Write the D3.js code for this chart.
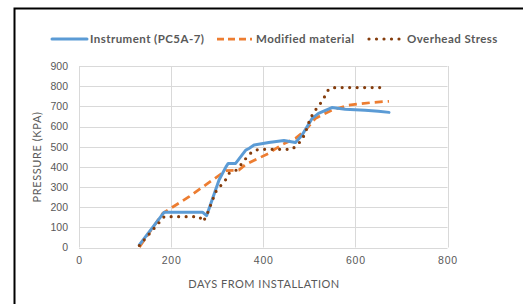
<!DOCTYPE html>
<html>
<head>
<meta charset="utf-8">
<script src="https://cdn.jsdelivr.net/npm/d3@7"></script>
<style>
  body { margin: 0; background: #fff; }
  svg { display: block; font-family: Lato, 'Open Sans', sans-serif; }
</style>
</head>
<body>
<div id="chart"></div>
<script>
// Values
const instrumentDays = [131, 185, 268, 277, 304, 319, 324, 340, 362, 369, 380, 412, 445, 470, 484, 506, 520, 549, 578, 621, 650, 673];
const instrumentKpa = [13, 175, 175, 158, 335, 400, 417, 417, 483, 491, 508, 521, 531, 521, 557, 640, 665, 694, 686, 681, 676, 670];

const modifiedDays = [131, 182, 239, 290, 319, 347, 362, 412, 441, 470, 492, 513, 549, 585, 636, 673];
const modifiedKpa = [2, 170, 252, 335, 381, 384, 412, 467, 511, 541, 582, 640, 681, 706, 719, 725];

const overheadDays = [131, 185, 261, 270, 279, 297, 319, 326, 340, 354, 365, 376, 390, 463, 473, 484, 492, 502, 513, 524, 533, 542, 556, 665];
const overheadKpa = [10, 153, 153, 128, 170, 277, 338, 368, 381, 417, 450, 475, 487, 487, 508, 533, 574, 640, 681, 714, 747, 785, 793, 793];

const xTicks = [0, 200, 400, 600, 800];
const yTicks = [0, 100, 200, 300, 400, 500, 600, 700, 800, 900];

const seriesNames = ['Instrument (PC5A-7)', 'Modified material', 'Overhead Stress'];

const w = 523;
const h = 304;
const margin = { left: 79, right: 75, top: 66, bottom: 56 };

const svg = d3.select('#chart')
  .append('svg')
  .attr('width', w)
  .attr('height', h);

// frame of the chart area (only left and top edges are visible)
svg.append('rect')
  .attr('x', 14.5)
  .attr('y', 8.5)
  .attr('width', w)
  .attr('height', h)
  .attr('fill', 'none')
  .attr('stroke', '#000')
  .attr('stroke-width', 2);

const xscale = d3.scaleLinear().domain([0, 800]).range([margin.left, w - margin.right - 0.5]);
const yscale = d3.scaleLinear().domain([0, 900]).range([h - margin.bottom - 0.5, margin.top]);

// grid lines
svg.append('g')
  .selectAll('line')
  .data(yTicks)
  .enter()
  .append('line')
  .attr('x1', xscale(0))
  .attr('x2', xscale(800))
  .attr('y1', (d) => Math.round(yscale(d)) + 0.5)
  .attr('y2', (d) => Math.round(yscale(d)) + 0.5)
  .attr('stroke', '#d9d9d9');

svg.append('g')
  .selectAll('line')
  .data(xTicks)
  .enter()
  .append('line')
  .attr('x1', (d) => Math.round(xscale(d)) + 0.5)
  .attr('x2', (d) => Math.round(xscale(d)) + 0.5)
  .attr('y1', yscale(0))
  .attr('y2', yscale(900))
  .attr('stroke', '#d9d9d9');

// axes: labels only
const xAxis = d3.axisBottom(xscale).tickValues(xTicks).tickSize(0).tickPadding(9);
svg.append('g')
  .attr('transform', 'translate(0,' + yscale(0) + ')')
  .call(xAxis)
  .call((g) => g.select('.domain').remove())
  .selectAll('text')
  .attr('fill', '#595959')
  .style('font-size', '10.5px')
  .style('letter-spacing', '0.8px');

const yAxis = d3.axisLeft(yscale).tickValues(yTicks).tickSize(0).tickPadding(11);
svg.append('g')
  .attr('transform', 'translate(' + xscale(0) + ',0)')
  .call(yAxis)
  .call((g) => g.select('.domain').remove())
  .selectAll('text')
  .attr('fill', '#595959')
  .style('font-size', '10.5px');

// axis titles
svg.append('text')
  .attr('x', 264)
  .attr('y', 288)
  .attr('text-anchor', 'middle')
  .attr('fill', '#595959')
  .style('font-size', '11px')
  .style('letter-spacing', '0.5px')
  .text('DAYS FROM INSTALLATION');

svg.append('text')
  .attr('transform', 'translate(41,157) rotate(-90)')
  .attr('text-anchor', 'middle')
  .attr('fill', '#595959')
  .style('font-size', '11px')
  .style('letter-spacing', '0.6px')
  .text('PRESSURE (KPA)');

// series lines
const line = d3.line()
  .x((d) => xscale(d[0]))
  .y((d) => yscale(d[1]));

const instrument = d3.zip(instrumentDays, instrumentKpa);
const modified = d3.zip(modifiedDays, modifiedKpa);
const overhead = d3.zip(overheadDays, overheadKpa);

const styles = [
  { color: '#5b9bd5', width: 3, dash: null, cap: 'round' },
  { color: '#ed7d31', width: 2.75, dash: '8,5', cap: 'butt' },
  { color: '#843c0c', width: 3.2, dash: '0,7.5', cap: 'round' }
];

svg.append('path')
  .datum(modified)
  .attr('d', line)
  .attr('fill', 'none')
  .attr('stroke', styles[1].color)
  .attr('stroke-width', styles[1].width)
  .attr('stroke-dasharray', styles[1].dash);

svg.append('path')
  .datum(instrument)
  .attr('d', line)
  .attr('fill', 'none')
  .attr('stroke', styles[0].color)
  .attr('stroke-width', styles[0].width)
  .attr('stroke-linejoin', 'round')
  .attr('stroke-linecap', 'round');

svg.append('path')
  .datum(overhead)
  .attr('d', line)
  .attr('fill', 'none')
  .attr('stroke', styles[2].color)
  .attr('stroke-width', styles[2].width)
  .attr('stroke-dasharray', styles[2].dash)
  .attr('stroke-linecap', 'round');

// legend
const legendX = [52, 217, 369];
const legend = svg.append('g')
  .selectAll('g')
  .data(seriesNames)
  .enter()
  .append('g')
  .attr('transform', (d, i) => 'translate(' + legendX[i] + ',39)');

legend.append('line')
  .attr('x1', 0)
  .attr('x2', 35)
  .attr('y1', 0)
  .attr('y2', 0)
  .attr('stroke', (d, i) => styles[i].color)
  .attr('stroke-width', (d, i) => styles[i].width)
  .attr('stroke-dasharray', (d, i) => (i === 1 ? '7,4' : i === 2 ? '0,7.5' : null))
  .attr('stroke-linecap', (d, i) => styles[i].cap);

legend.append('text')
  .attr('x', (d, i) => (i === 2 ? 38 : i === 1 ? 39 : 38))
  .attr('y', 4)
  .attr('fill', '#595959')
  .style('font-size', '11.5px')
  .style('font-weight', 'bold')
  .style('letter-spacing', '0.45px')
  .text((d) => d);
</script>
</body>
</html>
